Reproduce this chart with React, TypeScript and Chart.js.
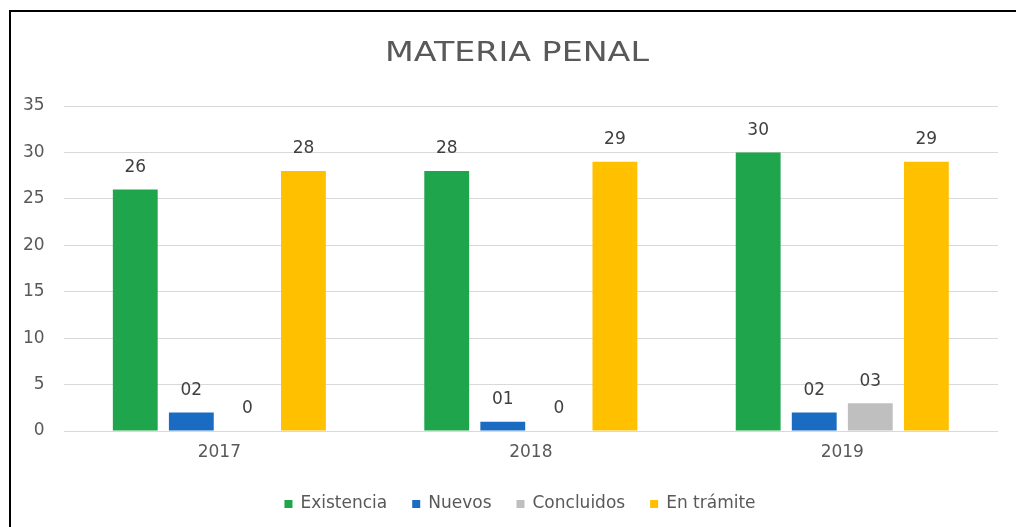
import React, { useEffect, useRef } from "react";
import { Chart, registerables } from "chart.js";

Chart.register(...registerables);

const titleText = "MATERIA PENAL";
const categories = ["2017", "2018", "2019"];
const seriesNames = ["Existencia", "Nuevos", "Concluidos", "En trámite"];
const existencia = [26, 28, 30];
const nuevos = [2, 1, 2];
const concluidos = [0, 0, 3];
const enTramite = [28, 29, 29];
const existenciaLabels = ["26", "28", "30"];
const nuevosLabels = ["02", "01", "02"];
const concluidosLabels = ["0", "0", "03"];
const enTramiteLabels = ["28", "29", "29"];
const yMin = 0;
const yMax = 35;
const yStep = 5;

const colors = ["#1fa54b", "#1a6cc2", "#bfbfbf", "#ffc000"];
const FONT = "'DejaVu Sans', 'Liberation Sans', Arial, sans-serif";
const TEXT = "#595959";

export default function App() {
  const ref = useRef<HTMLCanvasElement | null>(null);

  useEffect(() => {
    if (!ref.current) return;
    const labelSets = [existenciaLabels, nuevosLabels, concluidosLabels, enTramiteLabels];
    const valueSets = [existencia, nuevos, concluidos, enTramite];

    const labelPlugin = {
      id: "barLabels",
      afterDatasetsDraw(chart: any) {
        const ctx = chart.ctx;
        ctx.save();
        ctx.font = `17px ${FONT}`;
        ctx.fillStyle = "#404040";
        ctx.textAlign = "center";
        ctx.textBaseline = "middle";
        chart.data.datasets.forEach((ds: any, di: number) => {
          const meta = chart.getDatasetMeta(di);
          meta.data.forEach((bar: any, i: number) => {
            ctx.fillText(labelSets[di][i], bar.x, bar.y - 22);
          });
        });
        ctx.restore();
      },
    };

    const titlePlugin = {
      id: "customTitle",
      afterDraw(chart: any) {
        const ctx = chart.ctx;
        ctx.save();
        ctx.font = `26px ${FONT}`;
        ctx.fillStyle = TEXT;
        ctx.textAlign = "center";
        ctx.textBaseline = "middle";
        ctx.translate(517, 54);
        ctx.scale(1.28, 1);
        ctx.fillText(titleText, 0, 0);
        ctx.restore();
      },
    };

    const legendPlugin = {
      id: "customLegend",
      afterDraw(chart: any) {
        const ctx = chart.ctx;
        ctx.save();
        ctx.font = `17px ${FONT}`;
        ctx.textBaseline = "middle";
        ctx.textAlign = "left";
        const box = 8;
        const textGap = 8;
        const itemGap = 25;
        const items = chart.data.datasets.map((ds: any) => ({
          label: ds.label,
          color: ds.backgroundColor,
          w: box + textGap + ctx.measureText(ds.label).width,
        }));
        const total =
          items.reduce((s: number, it: any) => s + it.w, 0) + itemGap * (items.length - 1);
        let x = 520 - total / 2;
        const y = 504;
        items.forEach((it: any) => {
          ctx.fillStyle = it.color;
          ctx.fillRect(x, y - box / 2, box, box);
          ctx.fillStyle = TEXT;
          ctx.fillText(it.label, x + box + textGap, y);
          x += it.w + itemGap;
        });
        ctx.restore();
      },
    };

    const chart = new Chart(ref.current, {
      type: "bar",
      data: {
        labels: categories,
        datasets: seriesNames.map((name, i) => ({
          label: name,
          data: valueSets[i],
          backgroundColor: colors[i],
          borderWidth: 0,
          categoryPercentage: 0.72,
          barPercentage: 0.8,
        })),
      },
      options: {
        responsive: false,
        animation: false,
        layout: { padding: { top: 106, left: 4, right: 18, bottom: 53 } },
        plugins: {
          title: { display: false },
          tooltip: { enabled: false },
          legend: { display: false },
        },
        scales: {
          x: {
            grid: { display: false, drawTicks: false },
            border: { display: false },
            ticks: { color: TEXT, font: { family: FONT, size: 17 }, padding: 11 },
            afterFit(scale: any) {
              scale.height = 43;
            },
          },
          y: {
            min: yMin,
            max: yMax,
            grid: { color: "#d9d9d9", lineWidth: 1, drawTicks: false },
            border: { display: false },
            ticks: {
              stepSize: yStep,
              color: TEXT,
              font: { family: FONT, size: 17 },
              padding: 19,
            },
          },
        },
      },
      plugins: [labelPlugin, titlePlugin, legendPlugin],
    } as any);

    return () => chart.destroy();
  }, []);

  return (
    <div
      style={{
        position: "fixed",
        left: 0,
        top: 0,
        width: 1016,
        height: 527,
        background: "#ffffff",
        overflow: "hidden",
      }}
    >
      <canvas ref={ref} width={1016} height={527} style={{ display: "block" }} />
      <div
        style={{
          position: "absolute",
          left: 9,
          top: 10,
          width: 1016,
          height: 527,
          borderLeft: "2px solid #000",
          borderTop: "2px solid #000",
          pointerEvents: "none",
        }}
      />
    </div>
  );
}
